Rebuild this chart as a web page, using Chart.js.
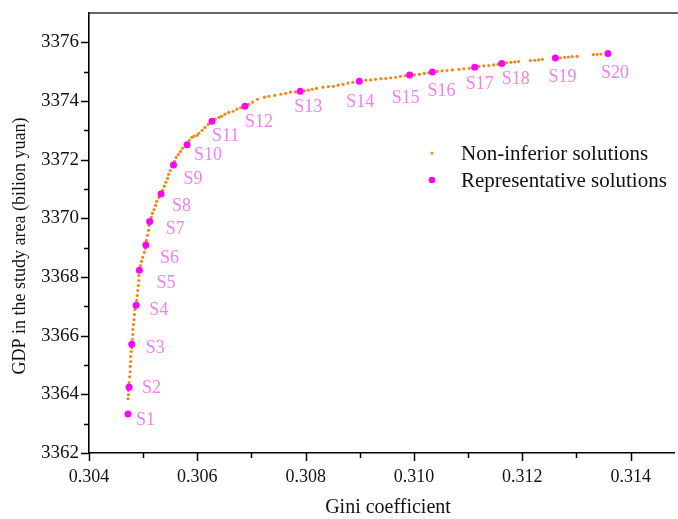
<!DOCTYPE html>
<html>
<head>
<meta charset="utf-8">
<script src="https://cdn.jsdelivr.net/npm/chart.js@4/dist/chart.umd.min.js"></script>
<style>
  html, body { margin: 0; padding: 0; background: #fff; }
  #wrap { width: 678px; height: 519px; }
</style>
</head>
<body>
<div id="wrap"><canvas id="paretoChart" width="678" height="519"></canvas></div>
<script>
// non-inferior solutions
const nonInfGini = [
  0.30472, 0.30473, 0.30473, 0.30474, 0.30475, 0.30476, 0.30476, 0.30477, 0.30477, 0.30478, 0.30479,
  0.30480, 0.30481, 0.30481, 0.30482, 0.30483, 0.30484, 0.30485,
  0.30488, 0.30489, 0.30490, 0.30491, 0.30492, 0.30492,
  0.30495, 0.30497, 0.30499, 0.30502, 0.30504,
  0.30506, 0.30508, 0.30510, 0.30511,
  0.30515, 0.30517, 0.30520, 0.30523, 0.30525, 0.30529,
  0.30536, 0.30539, 0.30542, 0.30545, 0.30547, 0.30550,
  0.30558, 0.30561, 0.30565, 0.30569, 0.30573,
  0.30585, 0.30590, 0.30594, 0.30600, 0.30603, 0.30609, 0.30614, 0.30620,
  0.30633, 0.30640, 0.30645, 0.30651, 0.30658, 0.30666, 0.30673, 0.30680,
  0.30695, 0.30702, 0.30711, 0.30724, 0.30732, 0.30743, 0.30754, 0.30763, 0.30772, 0.30781,
  0.30798, 0.30805, 0.30812, 0.30820, 0.30832, 0.30842, 0.30851, 0.30860, 0.30869, 0.30878, 0.30887,
  0.30911, 0.30920, 0.30929, 0.30939, 0.30948, 0.30957, 0.30966, 0.30975, 0.30984,
  0.31001, 0.31010, 0.31019, 0.31027,
  0.31043, 0.31052, 0.31061, 0.31071, 0.31083, 0.31092, 0.31102,
  0.31120, 0.31129, 0.31138, 0.31147, 0.31155,
  0.31171, 0.31179, 0.31186, 0.31193, 0.31215, 0.31223, 0.31230, 0.31237,
  0.31270, 0.31278, 0.31285, 0.31292, 0.31301, 0.31331, 0.31338, 0.31345
];
const nonInfGdp = [
  3363.85, 3363.99, 3364.13, 3364.40, 3364.60, 3364.77, 3364.95, 3365.12, 3365.29, 3365.46, 3365.59,
  3365.87, 3366.04, 3366.21, 3366.38, 3366.55, 3366.72, 3366.89,
  3367.20, 3367.37, 3367.54, 3367.71, 3367.88, 3368.05,
  3368.39, 3368.53, 3368.67, 3368.84, 3368.97,
  3369.25, 3369.42, 3369.59, 3369.76,
  3370.03, 3370.17, 3370.30, 3370.44, 3370.58, 3370.71,
  3370.95, 3371.09, 3371.23, 3371.36, 3371.50, 3371.63,
  3371.94, 3372.08, 3372.18, 3372.28, 3372.39,
  3372.66, 3372.76, 3372.80, 3372.83, 3372.90, 3373.00, 3373.10, 3373.20,
  3373.38, 3373.44, 3373.48, 3373.55, 3373.61, 3373.65, 3373.72, 3373.77,
  3373.89, 3373.96, 3374.06, 3374.13, 3374.16, 3374.19, 3374.23, 3374.26, 3374.30, 3374.31,
  3374.35, 3374.37, 3374.40, 3374.43, 3374.47, 3374.49, 3374.50, 3374.54, 3374.57, 3374.61, 3374.64,
  3374.71, 3374.72, 3374.74, 3374.76, 3374.77, 3374.79, 3374.81, 3374.84, 3374.86,
  3374.89, 3374.91, 3374.94, 3374.96,
  3375.01, 3375.03, 3375.04, 3375.06, 3375.08, 3375.10, 3375.11,
  3375.18, 3375.20, 3375.21, 3375.23, 3375.25,
  3375.30, 3375.32, 3375.33, 3375.35, 3375.38, 3375.39, 3375.40, 3375.42,
  3375.47, 3375.49, 3375.50, 3375.51, 3375.52, 3375.58, 3375.59, 3375.60
];

// representative solutions S1..S20
const repLabels = ["S1","S2","S3","S4","S5","S6","S7","S8","S9","S10",
                   "S11","S12","S13","S14","S15","S16","S17","S18","S19","S20"];
const repGini = [0.30472, 0.30474, 0.30479, 0.30487, 0.30493, 0.30505, 0.30512, 0.30533, 0.30556, 0.30581,
                 0.30627, 0.30688, 0.30790, 0.30899, 0.30992, 0.31034, 0.31112, 0.31162, 0.31261, 0.31358];
const repGdp = [3363.33, 3364.24, 3365.71, 3367.04, 3368.23, 3369.09, 3369.89, 3370.83, 3371.82, 3372.51,
                3373.31, 3373.82, 3374.33, 3374.67, 3374.89, 3374.99, 3375.15, 3375.28, 3375.47, 3375.62];

const xTicks = [0.304, 0.306, 0.308, 0.310, 0.312, 0.314];
const yTicks = [3362, 3364, 3366, 3368, 3370, 3372, 3374, 3376];

// label placement next to each representative point (px offsets)
const labelOffsets = [[8,6],[13,1],[14,4],[13,5],[17,13],[14,13],[16,8],[11,12],[10,14],[7,11],
                      [0,15],[0,16],[-6,16],[-13,21],[-18,23],[-5,19],[-9,17],[0,16],[-7,19],[-7,20]];

const ORANGE = "#f0881e";
const MAGENTA = "#ff00ff";
const PINK = "#ee82ee";
const SERIF = "'Liberation Serif', 'DejaVu Serif', serif";

const decorPlugin = {
  id: "decor",
  afterDraw(chart) {
    const ctx = chart.ctx;
    const area = chart.chartArea;
    const xs = chart.scales.x, ys = chart.scales.y;
    ctx.save();

    // top frame line
    ctx.strokeStyle = "#333";
    ctx.lineWidth = 1.5;
    ctx.beginPath();
    ctx.moveTo(area.left, area.top);
    ctx.lineTo(chart.width, area.top);
    ctx.stroke();

    // tick marks (major + minor)
    ctx.strokeStyle = "#000";
    ctx.lineWidth = 1.5;
    for (let v = 0.304; v <= 0.3148; v += 0.001) {
      const px = Math.round(xs.getPixelForValue(v)) + 0.5;
      const major = Math.abs((v - 0.304) / 0.002 - Math.round((v - 0.304) / 0.002)) < 1e-6;
      ctx.beginPath();
      ctx.moveTo(px, area.bottom);
      ctx.lineTo(px, area.bottom + (major ? 8 : 5));
      ctx.stroke();
    }
    for (let v = 3362; v <= 3376; v += 1) {
      const py = Math.round(ys.getPixelForValue(v)) + 0.5;
      const major = v % 2 === 0;
      ctx.beginPath();
      ctx.moveTo(area.left, py);
      ctx.lineTo(area.left - (major ? 8 : 5), py);
      ctx.stroke();
    }

    // S labels
    ctx.fillStyle = PINK;
    ctx.font = "18px " + SERIF;
    ctx.textAlign = "left";
    ctx.textBaseline = "middle";
    repLabels.forEach((lab, i) => {
      const px = xs.getPixelForValue(repGini[i]);
      const py = ys.getPixelForValue(repGdp[i]);
      ctx.fillText(lab, px + labelOffsets[i][0], py + labelOffsets[i][1]);
    });

    // legend
    ctx.fillStyle = ORANGE;
    ctx.beginPath();
    ctx.arc(432, 153, 1.6, 0, Math.PI * 2);
    ctx.fill();
    ctx.fillStyle = MAGENTA;
    ctx.beginPath();
    ctx.arc(432, 180, 3.3, 0, Math.PI * 2);
    ctx.fill();
    ctx.fillStyle = "#111";
    ctx.font = "21px " + SERIF;
    ctx.fillText("Non-inferior solutions", 461, 154);
    ctx.fillText("Representative solutions", 461, 181);

    // axis titles
    ctx.font = "20px " + SERIF;
    ctx.textAlign = "center";
    ctx.fillText("Gini coefficient", 388, 508);
    ctx.translate(20, 246);
    ctx.rotate(-Math.PI / 2);
    ctx.font = "18px " + SERIF;
    ctx.fillText("GDP in the study area (bilion yuan)", 0, 0);
    ctx.restore();
  }
};

new Chart(document.getElementById("paretoChart"), {
  type: "scatter",
  data: {
    datasets: [
      {
        label: "Representative solutions",
        data: repGini.map((g, i) => ({ x: g, y: repGdp[i] })),
        backgroundColor: MAGENTA,
        borderWidth: 0,
        pointRadius: 3.5
      },
      {
        label: "Non-inferior solutions",
        data: nonInfGini.map((g, i) => ({ x: g, y: nonInfGdp[i] })),
        backgroundColor: ORANGE,
        borderWidth: 0,
        pointRadius: 1.6
      }
    ]
  },
  options: {
    responsive: false,
    animation: false,
    devicePixelRatio: 1,
    layout: { padding: { top: 13, right: 0, left: 0, bottom: 0 } },
    plugins: { legend: { display: false }, tooltip: { enabled: false } },
    scales: {
      x: {
        type: "linear",
        min: 0.304,
        max: 0.3148,
        afterBuildTicks: s => { s.ticks = xTicks.map(v => ({ value: v })); },
        afterFit: s => { s.height = 66; s.paddingLeft = 0; s.paddingRight = 0; },
        grid: { display: false, drawTicks: false },
        border: { display: true, color: "#000", width: 1.6 },
        ticks: {
          color: "#111",
          font: { family: SERIF, size: 18 },
          padding: 13,
          maxRotation: 0,
          callback: v => v.toFixed(3)
        }
      },
      y: {
        type: "linear",
        min: 3362,
        max: 3377,
        afterBuildTicks: s => { s.ticks = yTicks.map(v => ({ value: v })); },
        afterFit: s => { s.width = 89; s.paddingTop = 0; s.paddingBottom = 0; },
        grid: { display: false, drawTicks: false },
        border: { display: true, color: "#000", width: 1.6 },
        ticks: {
          color: "#111",
          font: { family: SERIF, size: 19 },
          padding: 10,
          callback: v => String(v)
        }
      }
    }
  },
  plugins: [decorPlugin]
});
</script>
</body>
</html>
